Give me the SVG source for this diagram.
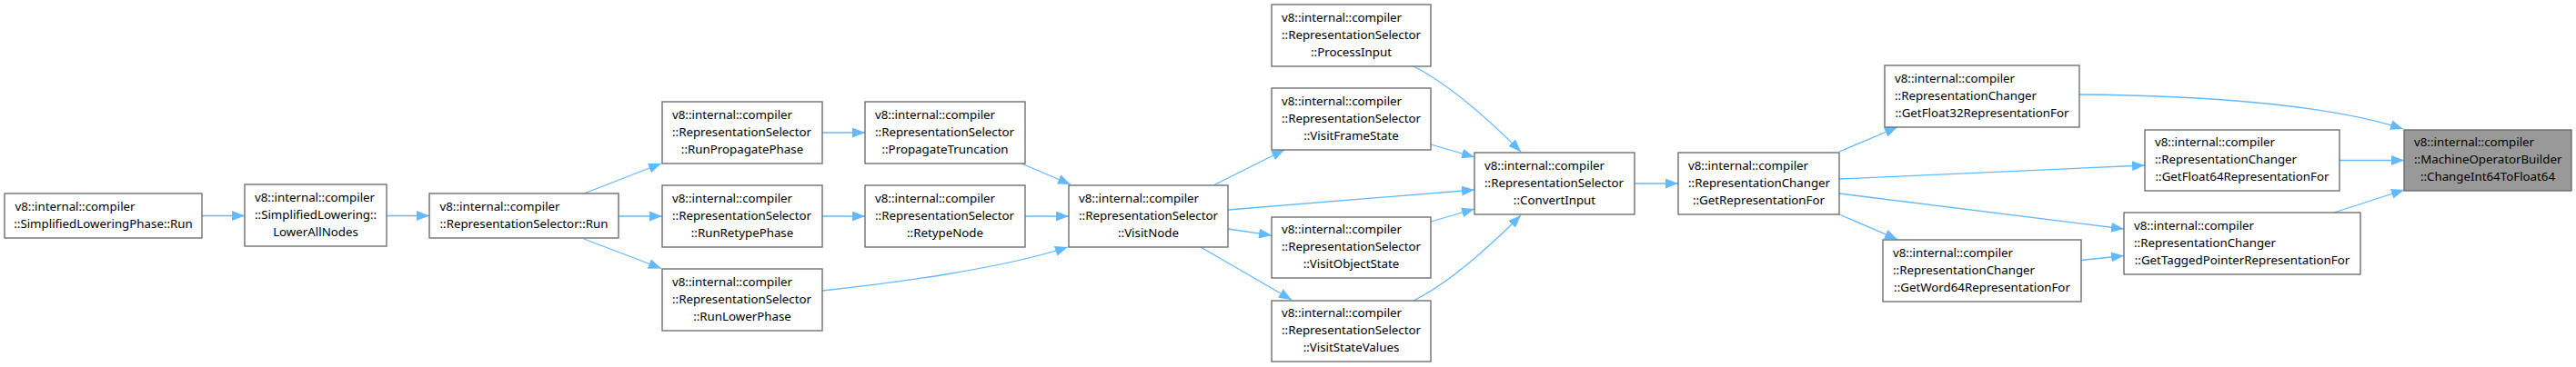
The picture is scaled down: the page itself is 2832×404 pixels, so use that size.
<svg xmlns="http://www.w3.org/2000/svg" width="2832" height="404" viewBox="0 0 2832 404">
<style>
.n rect{fill:#fff;stroke:#666;stroke-width:1.3}
.n.hl rect{fill:#999}
.n text{font-family:"Noto Sans","DejaVu Sans",sans-serif;font-size:13.3px;fill:#000}
.c{text-anchor:middle}
#edges path{fill:none;stroke:#63b8ff;stroke-width:1.3;marker-end:url(#ah)}
</style>
<defs>
<marker id="ah" markerUnits="userSpaceOnUse" markerWidth="15" markerHeight="11" refX="14" refY="5.5" orient="auto">
<path d="M0,0 L14,5.5 L0,11 z" fill="#63b8ff" stroke="none"/>
</marker>
</defs>
<g id="edges">
<path d="M222,237.5 L269,237.5"/>
<path d="M425,237.5 L472,237.5"/>
<path d="M642,213 L727,180"/>
<path d="M680,238 L728,238"/>
<path d="M642,263 L727,295.5"/>
<path d="M904,146 L951,146"/>
<path d="M904,238 L951,238"/>
<path d="M904,320 C980,312 1100,296 1174,272"/>
<path d="M1123,180 L1177,203"/>
<path d="M1127,238 L1175,238"/>
<path d="M1335,203.5 L1412,165"/>
<path d="M1350,231 L1621,209"/>
<path d="M1350,252 L1398,259"/>
<path d="M1320,272 L1420,330"/>
<path d="M1554,73 C1580,86 1620,115 1672,167"/>
<path d="M1573,159 L1621,173"/>
<path d="M1573,244 L1621,230"/>
<path d="M1554,331 C1580,318 1620,289 1672,237"/>
<path d="M1797,202 L1845,202"/>
<path d="M2022,167 L2086,140"/>
<path d="M2022,197 L2358,182"/>
<path d="M2022,213 L2335,252"/>
<path d="M2022,236 L2086,263.5"/>
<path d="M2288,286.5 L2335,281.5"/>
<path d="M2286,104 C2420,105 2560,115 2642,142"/>
<path d="M2572,176.5 L2643,176.5"/>
<path d="M2566,234 L2643,209"/>
</g>
<g id="n_slp" class="n"><rect x="5" y="213" width="217" height="49"/><text x="16.5" y="231.5">v8::internal::compiler</text><text class="c" x="113.5" y="250.5">::SimplifiedLoweringPhase::Run</text></g>
<g id="n_lan" class="n"><rect x="269" y="203" width="156" height="68"/><text x="280" y="221.5">v8::internal::compiler</text><text x="280" y="240.5">::SimplifiedLowering::</text><text class="c" x="347" y="259.5">LowerAllNodes</text></g>
<g id="n_rsrun" class="n"><rect x="472" y="213" width="208" height="49"/><text x="483.5" y="231.5">v8::internal::compiler</text><text class="c" x="576" y="250.5">::RepresentationSelector::Run</text></g>
<g id="n_rpp" class="n"><rect x="728" y="112" width="176" height="68"/><text x="739" y="130.5">v8::internal::compiler</text><text x="739" y="149.5">::RepresentationSelector</text><text class="c" x="816" y="168.5">::RunPropagatePhase</text></g>
<g id="n_rrp" class="n"><rect x="728" y="204" width="176" height="68"/><text x="739" y="222.5">v8::internal::compiler</text><text x="739" y="241.5">::RepresentationSelector</text><text class="c" x="816" y="260.5">::RunRetypePhase</text></g>
<g id="n_rlp" class="n"><rect x="728" y="296" width="176" height="68"/><text x="739" y="314.5">v8::internal::compiler</text><text x="739" y="333.5">::RepresentationSelector</text><text class="c" x="816" y="352.5">::RunLowerPhase</text></g>
<g id="n_pt" class="n"><rect x="951" y="112" width="176" height="68"/><text x="962" y="130.5">v8::internal::compiler</text><text x="962" y="149.5">::RepresentationSelector</text><text class="c" x="1039" y="168.5">::PropagateTruncation</text></g>
<g id="n_rn" class="n"><rect x="951" y="204" width="176" height="68"/><text x="962" y="222.5">v8::internal::compiler</text><text x="962" y="241.5">::RepresentationSelector</text><text class="c" x="1039" y="260.5">::RetypeNode</text></g>
<g id="n_vn" class="n"><rect x="1175" y="204" width="175" height="68"/><text x="1186" y="222.5">v8::internal::compiler</text><text x="1186" y="241.5">::RepresentationSelector</text><text class="c" x="1262.5" y="260.5">::VisitNode</text></g>
<g id="n_pi" class="n"><rect x="1398" y="5" width="175" height="68"/><text x="1409" y="23.5">v8::internal::compiler</text><text x="1409" y="42.5">::RepresentationSelector</text><text class="c" x="1485.5" y="61.5">::ProcessInput</text></g>
<g id="n_vfs" class="n"><rect x="1398" y="97" width="175" height="68"/><text x="1409" y="115.5">v8::internal::compiler</text><text x="1409" y="134.5">::RepresentationSelector</text><text class="c" x="1485.5" y="153.5">::VisitFrameState</text></g>
<g id="n_vos" class="n"><rect x="1398" y="239" width="175" height="67"/><text x="1409" y="257">v8::internal::compiler</text><text x="1409" y="276">::RepresentationSelector</text><text class="c" x="1485.5" y="295">::VisitObjectState</text></g>
<g id="n_vsv" class="n"><rect x="1398" y="331" width="175" height="67"/><text x="1409" y="349">v8::internal::compiler</text><text x="1409" y="368">::RepresentationSelector</text><text class="c" x="1485.5" y="387">::VisitStateValues</text></g>
<g id="n_ci" class="n"><rect x="1621" y="168" width="176" height="68"/><text x="1632" y="186.5">v8::internal::compiler</text><text x="1632" y="205.5">::RepresentationSelector</text><text class="c" x="1709" y="224.5">::ConvertInput</text></g>
<g id="n_grf" class="n"><rect x="1845" y="168" width="177" height="68"/><text x="1856" y="186.5">v8::internal::compiler</text><text x="1856" y="205.5">::RepresentationChanger</text><text class="c" x="1933.5" y="224.5">::GetRepresentationFor</text></g>
<g id="n_gf32" class="n"><rect x="2072" y="72" width="214" height="68"/><text x="2083" y="90.5">v8::internal::compiler</text><text x="2083" y="109.5">::RepresentationChanger</text><text class="c" x="2179" y="128.5">::GetFloat32RepresentationFor</text></g>
<g id="n_gw64" class="n"><rect x="2070" y="264" width="218" height="68"/><text x="2081" y="282.5">v8::internal::compiler</text><text x="2081" y="301.5">::RepresentationChanger</text><text class="c" x="2179" y="320.5">::GetWord64RepresentationFor</text></g>
<g id="n_gf64" class="n"><rect x="2358" y="143" width="214" height="67"/><text x="2369" y="161">v8::internal::compiler</text><text x="2369" y="180">::RepresentationChanger</text><text class="c" x="2465" y="199">::GetFloat64RepresentationFor</text></g>
<g id="n_gtp" class="n"><rect x="2335" y="234" width="260" height="68"/><text x="2346" y="252.5">v8::internal::compiler</text><text x="2346" y="271.5">::RepresentationChanger</text><text class="c" x="2465" y="290.5">::GetTaggedPointerRepresentationFor</text></g>
<g id="n_ci64" class="n hl"><rect x="2643" y="143" width="184" height="67"/><text x="2654" y="161">v8::internal::compiler</text><text x="2654" y="180">::MachineOperatorBuilder</text><text class="c" x="2735" y="199">::ChangeInt64ToFloat64</text></g>
</svg>
